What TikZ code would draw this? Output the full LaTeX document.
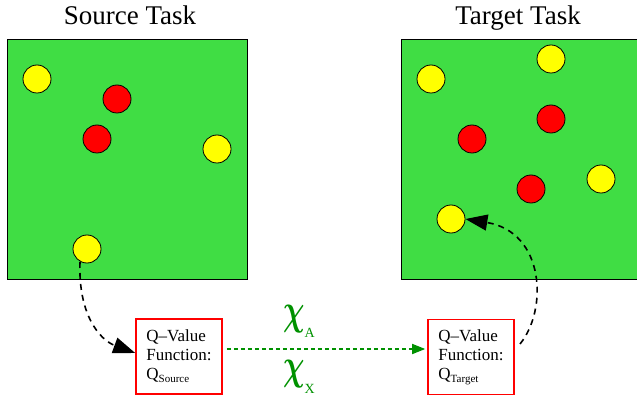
\documentclass[tikz,border=0pt]{standalone}
\usepackage{fontspec}
\setmainfont{Liberation Serif}
\usetikzlibrary{arrows.meta}
\definecolor{field}{RGB}{64,221,68}
\definecolor{token}{RGB}{255,255,0}
\definecolor{hazard}{RGB}{255,0,0}
\definecolor{mapgreen}{RGB}{0,145,0}
\newcommand{\mapsub}[2]{{\fontsize{14}{14}\selectfont\raisebox{#1}{#2}}}
\newcommand{\bigchi}{\scalebox{1.2}[1.74]{\fontsize{24.88}{25}\selectfont\boldmath$\chi$}}
\tikzset{
  taskfield/.style={draw=black, fill=field, line width=0.8pt},
  ybal/.style={circle, draw=black, fill=token, minimum size=28pt, inner sep=0pt, line width=0.8pt},
  rbal/.style={circle, draw=black, fill=hazard, minimum size=28pt, inner sep=0pt, line width=0.8pt},
  qbox/.style={draw=hazard, line width=1.6pt, minimum width=86pt, minimum height=75pt,
    inner sep=0pt, align=left, font=\fontsize{17}{19}\selectfont},
  title/.style={font=\fontsize{27}{30}\selectfont, inner sep=0pt, anchor=base},
  chil/.style={text=mapgreen, inner sep=0pt, anchor=base west},
  transfer/.style={line width=1.6pt, dash pattern=on 6pt off 5pt,
    -{Triangle[length=22pt,width=16pt]}},
  mapping/.style={draw=mapgreen, line width=1.6pt, dash pattern=on 4pt off 3pt,
    -{Triangle[length=13pt,width=10pt,fill=mapgreen]}}
}
\begin{document}
\begin{tikzpicture}[x=1pt, y=-1pt]
\useasboundingbox (0,0) rectangle (637,398);

% task titles
\node[title] (srctitle) at (130,25) {Source Task};
\node[title] (tgttitle) at (518,25) {Target Task};

% source task field
\draw[taskfield] (7,39) rectangle (247,279);
\node[ybal] (s1) at (37,79) {};
\node[rbal] (s2) at (117,99) {};
\node[rbal] (s3) at (97,139) {};
\node[ybal] (s4) at (217,149) {};
\node[ybal] (s5) at (87,249) {};

% target task field
\draw[taskfield] (401,39) rectangle (641,279);
\node[ybal] (t1) at (431,79) {};
\node[ybal] (t2) at (551,59) {};
\node[rbal] (t3) at (551,119) {};
\node[rbal] (t4) at (472,139) {};
\node[rbal] (t5) at (531,189) {};
\node[ybal] (t6) at (601,179) {};
\node[ybal] (t7) at (451,219) {};

% Q-value function boxes
\node[qbox] (qs) at (179,356.5) {Q–Value\\Function:\\Q{\fontsize{11}{11}\selectfont\raisebox{-3pt}{Source}}};
\node[qbox] (qt) at (471,357) {Q–Value\\Function:\\Q{\fontsize{11}{11}\selectfont\raisebox{-3pt}{Target}}};

% inter-task mappings
\draw[mapping] ([yshift=7.5pt,xshift=4pt]qs.east) -- ([yshift=8pt,xshift=-2pt]qt.west);
\node[chil] (chiA) at (283,324) {\bigchi\mapsub{-13pt}{A}};
\node[chil] (chiX) at (283,379) {\bigchi\mapsub{-14pt}{X}};

% transfer arrows
\coordinate (sstart) at (80,262);
\coordinate (tstart) at (520,344);
\draw[transfer] (sstart) .. controls (78,315) and (100,340) .. (qs.west |- 0,353);
\draw[transfer] (tstart) .. controls (548,310) and (545,232) .. (t7.east);
\end{tikzpicture}
\end{document}
